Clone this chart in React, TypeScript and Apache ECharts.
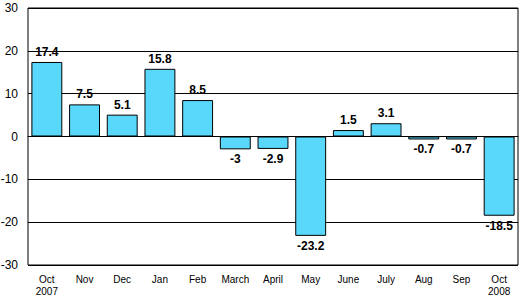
import React, { useEffect, useRef } from "react";
import * as echarts from "echarts";

const categories = ["Oct\n2007", "Nov", "Dec", "Jan", "Feb", "March", "April", "May", "June", "July", "Aug", "Sep", "Oct\n2008"];
const values = [17.4, 7.5, 5.1, 15.8, 8.5, -3, -2.9, -23.2, 1.5, 3.1, -0.7, -0.7, -18.5];
const yTicks = { min: -30, max: 30, interval: 10 };

export default function App() {
  const ref = useRef<HTMLDivElement>(null);
  useEffect(() => {
    const chart = echarts.init(ref.current!, null, { renderer: "svg" });
    chart.setOption({
      animation: false,
      grid: { left: 28, right: 1, top: 8, bottom: 31, show: true, borderColor: "#000", borderWidth: 1, backgroundColor: "transparent", containLabel: false, outerBoundsMode: "none" },
      xAxis: {
        type: "category",
        data: categories,
        axisLine: { onZero: true, lineStyle: { color: "#000", width: 1 } },
        axisTick: { show: false },
        axisLabel: { color: "#000", fontFamily: "Liberation Sans, Arial, sans-serif", fontSize: 10, margin: 8, lineHeight: 12, interval: 0 },
        position: "bottom",
      },
      yAxis: {
        type: "value",
        min: yTicks.min,
        max: yTicks.max,
        interval: yTicks.interval,
        axisLine: { show: false },
        axisTick: { show: false },
        splitLine: { show: true, lineStyle: { color: "#000", width: 1 } },
        axisLabel: { color: "#000", fontFamily: "Liberation Sans, Arial, sans-serif", fontSize: 12, margin: 10 },
      },
      series: [
        {
          type: "bar",
          data: values.map((v) => ({
            value: v,
            label: { position: v >= 0 ? "top" : "bottom" },
          })),
          barCategoryGap: "18%",
          itemStyle: { color: "#5AD8FC", borderColor: "#000", borderWidth: 1 },
          label: {
            show: true,
            color: "#000",
            fontWeight: "bold",
            fontSize: 12,
            fontFamily: "Liberation Sans, Arial, sans-serif",
            distance: 4,
          },
        },
      ],
    });
    return () => chart.dispose();
  }, []);
  return <div ref={ref} style={{ width: 519, height: 296, position: "absolute", left: 0, top: 0 }} />;
}
